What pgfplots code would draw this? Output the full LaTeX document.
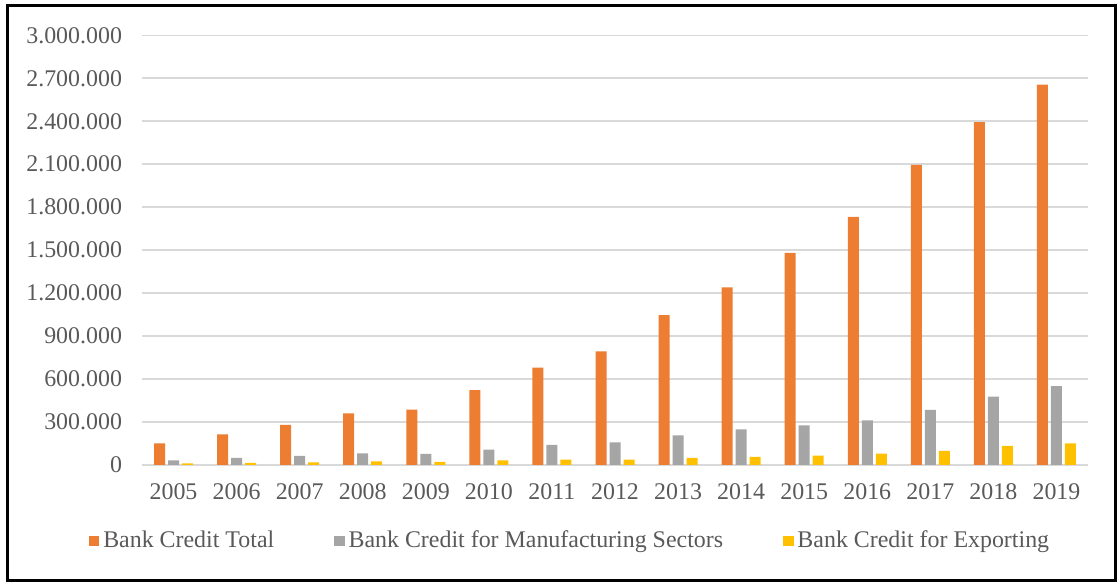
\documentclass[border=0pt]{standalone}
\usepackage{pgfplots}
\pgfplotsset{compat=1.18}
\usepackage{fontspec}
\setmainfont{Liberation Serif}
\definecolor{cOrange}{HTML}{ED7D31}
\definecolor{cGray}{HTML}{A5A5A5}
\definecolor{cYellow}{HTML}{FFC000}
\definecolor{cGrid}{HTML}{D9D9D9}
\definecolor{cText}{HTML}{595959}
\begin{document}
\begin{tikzpicture}
\path[use as bounding box] (0,0) rectangle (559bp,291.5bp);
\draw[black, line width=1.4bp] (3.6bp,1.2bp) rectangle (557.6bp,288.6bp);
\begin{axis}[
  at={(71bp,59bp)}, anchor=south west,
  scale only axis,
  width=473bp, height=214.85bp,
  ybar=1.5bp, bar width=5.5bp,
  xmin=-0.5, xmax=14.5,
  ymin=0, ymax=3000000,
  xtick={0,...,14},
  xticklabels={2005,2006,2007,2008,2009,2010,2011,2012,2013,2014,2015,2016,2017,2018,2019},
  ytick={0,300000,...,3000000},
  scaled y ticks=false,
  y tick label style={/pgf/number format/fixed, /pgf/number format/precision=0,
    /pgf/number format/1000 sep={.}, /pgf/number format/assume math mode=true, xshift=-6.5bp},
  major tick length=0pt,
  ymajorgrids, grid style={cGrid, line width=0.8bp},
  axis line style={draw=none},
  tick label style={font=\fontsize{12}{14}\selectfont, text=cText},
  xticklabel style={yshift=-6bp},
  legend columns=3,
  legend style={at={(0.4535,-0.177)}, anchor=center, draw=none, fill=none,
    font=\fontsize{12}{14}\selectfont, text=cText,
    /tikz/every even column/.append style={column sep=28bp}},
  legend image code/.code={\fill[#1] (0bp,-2.6bp) rectangle (5.2bp,2.6bp);},
]
\addplot[fill=cOrange, draw=none] coordinates {
 (0,151000) (1,214000) (2,281000) (3,361000) (4,386000) (5,523000) (6,679000) (7,793000)
 (8,1047000) (9,1240000) (10,1481000) (11,1732000) (12,2095000) (13,2393000) (14,2656000)};
\addplot[fill=cGray, draw=none] coordinates {
 (0,33000) (1,49000) (2,63000) (3,82000) (4,77000) (5,107000) (6,140000) (7,158000)
 (8,207000) (9,249000) (10,277000) (11,312000) (12,384000) (13,477000) (14,551000)};
\addplot[fill=cYellow, draw=none] coordinates {
 (0,12000) (1,14000) (2,19000) (3,26000) (4,21000) (5,33000) (6,37000) (7,37000)
 (8,49000) (9,56000) (10,65000) (11,79000) (12,98000) (13,133000) (14,151000)};
\legend{Bank Credit Total, Bank Credit for Manufacturing Sectors, Bank Credit for Exporting}
\end{axis}
\end{tikzpicture}
\end{document}
